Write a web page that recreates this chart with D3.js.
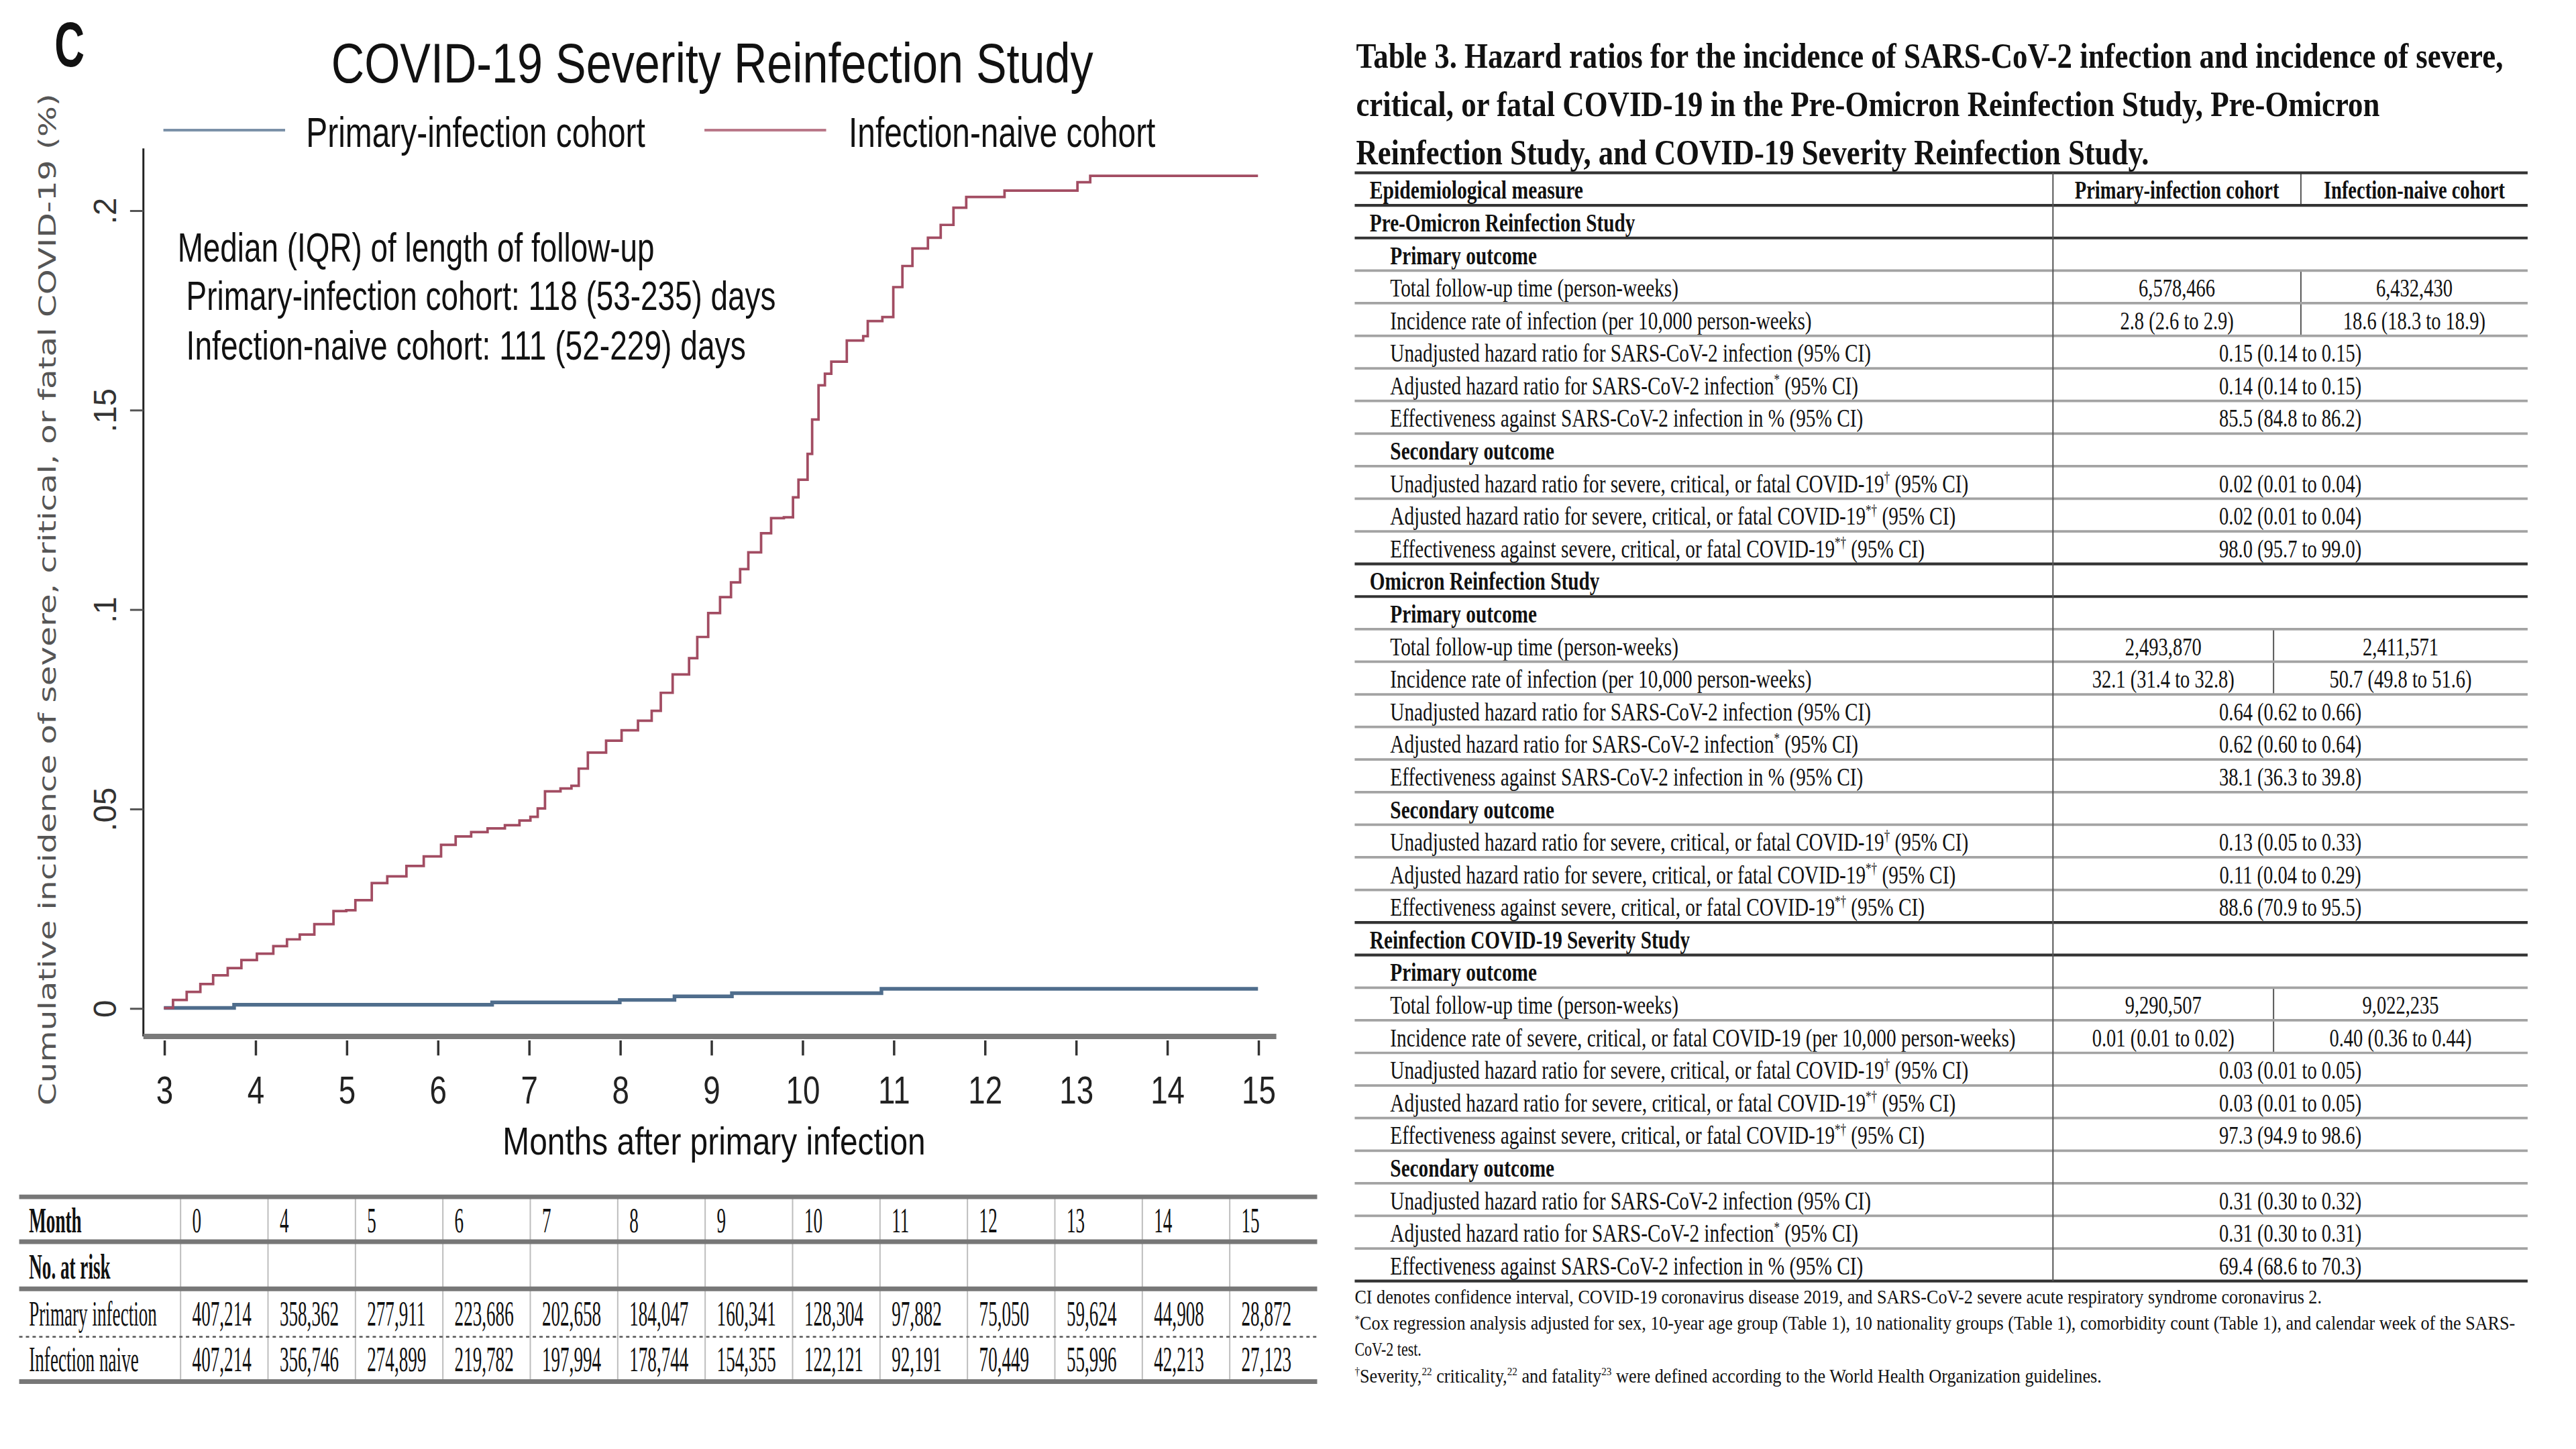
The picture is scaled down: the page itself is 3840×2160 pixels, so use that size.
<!DOCTYPE html>
<html><head><meta charset="utf-8">
<script src="https://cdn.jsdelivr.net/npm/d3@7"></script>
<style>html,body{margin:0;padding:0;background:#fff;} svg{display:block;}</style>
</head><body>
<svg id="chart" width="3840" height="2160" viewBox="0 0 1545 869"></svg>
<script>
// ---------------- DATA ----------------
const panelLetter = "C";
const chartTitle = "COVID-19 Severity Reinfection Study";
const seriesNames = ["Primary-infection cohort", "Infection-naive cohort"];
const xTickValues = [3,4,5,6,7,8,9,10,11,12,13,14,15];
const yTickValues = [0, 0.05, 0.1, 0.15, 0.2];
const yTickLabels = ["0", ".05", ".1", ".15", ".2"];
const xAxisTitle = "Months after primary infection";
const yAxisTitle = "Cumulative incidence of severe, critical, or fatal COVID-19 (%)";
const medianNotes = ["Median (IQR) of length of follow-up",
  "Primary-infection cohort: 118 (53-235) days",
  "Infection-naive cohort: 111 (52-229) days"];

const primaryMonths = [3, 3.77, 6.6, 8.0, 8.6, 9.23, 10.87, 15];
const primaryValues = [0, 0.0008, 0.0014, 0.002, 0.0029, 0.0037, 0.0048, 0.0048];

const naiveMonths = [3.0,3.1,3.25,3.4,3.54,3.7,3.85,4.02,4.2,4.35,4.49,4.65,4.86,5.0,5.1,5.28,5.45,5.66,5.85,6.04,6.2,6.37,6.55,6.74,6.9,7.02,7.1,7.18,7.35,7.47,7.55,7.65,7.85,8.02,8.2,8.35,8.45,8.58,8.76,8.85,8.97,9.1,9.22,9.32,9.41,9.55,9.66,9.8,9.9,9.96,10.06,10.11,10.18,10.25,10.32,10.49,10.67,10.72,10.88,11.0,11.1,11.21,11.38,11.52,11.66,11.8,12.22,13.02,13.16,15.0];
const naiveValues = [0,0.002,0.004,0.006,0.0082,0.010,0.012,0.0136,0.0155,0.0172,0.0184,0.021,0.0243,0.0245,0.027,0.0313,0.033,0.0356,0.038,0.0409,0.043,0.0441,0.045,0.0458,0.047,0.0479,0.050,0.0543,0.055,0.0557,0.060,0.064,0.067,0.0696,0.072,0.0745,0.079,0.0836,0.0877,0.093,0.099,0.103,0.1067,0.110,0.1142,0.119,0.1228,0.123,0.128,0.1324,0.1389,0.1475,0.1561,0.159,0.162,0.1673,0.1684,0.1722,0.1732,0.1807,0.186,0.1904,0.1931,0.1963,0.2006,0.2033,0.2049,0.207,0.2086,0.2086];

const riskMonths = ["0","4","5","6","7","8","9","10","11","12","13","14","15"];
const riskPrimary = ["407,214","358,362","277,911","223,686","202,658","184,047","160,341","128,304","97,882","75,050","59,624","44,908","28,872"];
const riskNaive = ["407,214","356,746","274,899","219,782","197,994","178,744","154,355","122,121","92,191","70,449","55,996","42,213","27,123"];
const riskRowLabels = ["Month", "No. at risk", "Primary infection", "Infection naive"];

const tableTitle = ["Table 3. Hazard ratios for the incidence of SARS-CoV-2 infection and incidence of severe,",
  "critical, or fatal COVID-19 in the Pre-Omicron Reinfection Study, Pre-Omicron",
  "Reinfection Study, and COVID-19 Severity Reinfection Study."];
const tableHeader = ["Epidemiological measure", "Primary-infection cohort", "Infection-naive cohort"];
const tableLabels = [
  "Pre-Omicron Reinfection Study",
  "Primary outcome",
  "Total follow-up time (person-weeks)",
  "Incidence rate of infection (per 10,000 person-weeks)",
  "Unadjusted hazard ratio for SARS-CoV-2 infection (95% CI)",
  "Adjusted hazard ratio for SARS-CoV-2 infection{*} (95% CI)",
  "Effectiveness against SARS-CoV-2 infection in % (95% CI)",
  "Secondary outcome",
  "Unadjusted hazard ratio for severe, critical, or fatal COVID-19{†} (95% CI)",
  "Adjusted hazard ratio for severe, critical, or fatal COVID-19{*†} (95% CI)",
  "Effectiveness against severe, critical, or fatal COVID-19{*†} (95% CI)",
  "Omicron Reinfection Study",
  "Primary outcome",
  "Total follow-up time (person-weeks)",
  "Incidence rate of infection (per 10,000 person-weeks)",
  "Unadjusted hazard ratio for SARS-CoV-2 infection (95% CI)",
  "Adjusted hazard ratio for SARS-CoV-2 infection{*} (95% CI)",
  "Effectiveness against SARS-CoV-2 infection in % (95% CI)",
  "Secondary outcome",
  "Unadjusted hazard ratio for severe, critical, or fatal COVID-19{†} (95% CI)",
  "Adjusted hazard ratio for severe, critical, or fatal COVID-19{*†} (95% CI)",
  "Effectiveness against severe, critical, or fatal COVID-19{*†} (95% CI)",
  "Reinfection COVID-19 Severity Study",
  "Primary outcome",
  "Total follow-up time (person-weeks)",
  "Incidence rate of severe, critical, or fatal COVID-19 (per 10,000 person-weeks)",
  "Unadjusted hazard ratio for severe, critical, or fatal COVID-19{†} (95% CI)",
  "Adjusted hazard ratio for severe, critical, or fatal COVID-19{*†} (95% CI)",
  "Effectiveness against severe, critical, or fatal COVID-19{*†} (95% CI)",
  "Secondary outcome",
  "Unadjusted hazard ratio for SARS-CoV-2 infection (95% CI)",
  "Adjusted hazard ratio for SARS-CoV-2 infection{*} (95% CI)",
  "Effectiveness against SARS-CoV-2 infection in % (95% CI)"
];
const tableKinds = ["study","outcome","data","data","data","data","data","outcome","data","data","data",
  "study","outcome","data","data","data","data","data","outcome","data","data","data",
  "study","outcome","data","data","data","data","data","outcome","data","data","data"];
const tableValueA = [null,null,"6,578,466","2.8 (2.6 to 2.9)","0.15 (0.14 to 0.15)","0.14 (0.14 to 0.15)","85.5 (84.8 to 86.2)",null,"0.02 (0.01 to 0.04)","0.02 (0.01 to 0.04)","98.0 (95.7 to 99.0)",
  null,null,"2,493,870","32.1 (31.4 to 32.8)","0.64 (0.62 to 0.66)","0.62 (0.60 to 0.64)","38.1 (36.3 to 39.8)",null,"0.13 (0.05 to 0.33)","0.11 (0.04 to 0.29)","88.6 (70.9 to 95.5)",
  null,null,"9,290,507","0.01 (0.01 to 0.02)","0.03 (0.01 to 0.05)","0.03 (0.01 to 0.05)","97.3 (94.9 to 98.6)",null,"0.31 (0.30 to 0.32)","0.31 (0.30 to 0.31)","69.4 (68.6 to 70.3)"];
const tableValueB = [null,null,"6,432,430","18.6 (18.3 to 18.9)",null,null,null,null,null,null,null,
  null,null,"2,411,571","50.7 (49.8 to 51.6)",null,null,null,null,null,null,null,
  null,null,"9,022,235","0.40 (0.36 to 0.44)",null,null,null,null,null,null,null];
const tableFootnotes = [
  "CI denotes confidence interval, COVID-19 coronavirus disease 2019, and SARS-CoV-2 severe acute respiratory syndrome coronavirus 2.",
  "{*}Cox regression analysis adjusted for sex, 10-year age group (Table 1), 10 nationality groups (Table 1), comorbidity count (Table 1), and calendar week of the SARS-",
  "CoV-2 test.",
  "{†}Severity,{22} criticality,{22} and fatality{23} were defined according to the World Health Organization guidelines."
];

// ---------------- HELPERS ----------------
const svg = d3.select("#chart");
const SANS = "'Liberation Sans', Arial, sans-serif";
const SERIF = "'Liberation Serif', 'Times New Roman', serif";
function fit(sel, w){ sel.attr("textLength", w).attr("lengthAdjust","spacingAndGlyphs"); return sel; }
function squeeze(sel, f){ sel.each(function(){ const L=this.getComputedTextLength(); d3.select(this).attr("textLength", L*f).attr("lengthAdjust","spacingAndGlyphs"); }); return sel; }
function rich(t, str, size){
  const parts = str.split(/(\{[^}]*\})/).filter(p => p.length);
  let raised = false;
  parts.forEach(p => {
    if (p[0] === "{") {
      t.append("tspan").attr("dy", -size*0.38).attr("font-size", size*0.58).text(p.slice(1,-1));
      raised = true;
    } else {
      const ts = t.append("tspan").text(p);
      if (raised) { ts.attr("dy", size*0.38); raised = false; }
    }
  });
  return t;
}

// ---------------- LEFT PANEL: CURVES ----------------
const x = d3.scaleLinear().domain([3, 15]).range([98.3, 754.5]);
const y = d3.scaleLinear().domain([0, 0.2]).range([604.5, 126]);
const colors = ["#4f6d8c", "#a24c62"];

fit(svg.append("text").attr("x", 32.7).attr("y", 40).attr("font-family", SANS).attr("font-size", 38)
  .attr("font-weight", 700).attr("fill", "#111").text(panelLetter), 18);
fit(svg.append("text").attr("x", 198.7).attr("y", 49.6).attr("font-family", SANS).attr("font-size", 33.5)
  .attr("fill", "#111").text(chartTitle), 457);

// legend
const legendPos = [{x1: 98, x2: 171, tx: 183.6, w: 203.4}, {x1: 422.5, x2: 495.5, tx: 509, w: 184}];
seriesNames.forEach((n, i) => {
  svg.append("line").attr("x1", legendPos[i].x1).attr("x2", legendPos[i].x2).attr("y1", 78).attr("y2", 78)
    .attr("stroke", colors[i]).attr("stroke-width", 1.6).attr("opacity", 0.75);
  fit(svg.append("text").attr("x", legendPos[i].tx).attr("y", 88).attr("font-family", SANS).attr("font-size", 25)
    .attr("fill", "#111").text(n), legendPos[i].w);
});

// median notes
const notePos = [{x: 106.5, y: 157, w: 286}, {x: 111.7, y: 186, w: 353.6}, {x: 111.7, y: 215.7, w: 335.6}];
medianNotes.forEach((s, i) => {
  fit(svg.append("text").attr("x", notePos[i].x).attr("y", notePos[i].y).attr("font-family", SANS)
    .attr("font-size", 24.5).attr("fill", "#111").text(s), notePos[i].w);
});

// y axis
svg.append("line").attr("x1", 86).attr("x2", 86).attr("y1", 89).attr("y2", 621.6)
  .attr("stroke", "#222").attr("stroke-width", 1.2);
const yAxisG = svg.append("g").attr("transform", "translate(86,0)")
  .call(d3.axisLeft(y).tickValues(yTickValues).tickSize(8).tickFormat((d, i) => yTickLabels[i]));
yAxisG.select(".domain").remove();
yAxisG.selectAll(".tick line").attr("stroke", "#555").attr("stroke-width", 1.2);
yAxisG.selectAll(".tick text").attr("x", null).attr("dy", null).attr("text-anchor", "middle")
  .attr("transform", "translate(-16.5,0) rotate(-90)").attr("font-family", SANS).attr("font-size", 19).attr("fill", "#333");

fit(svg.append("text").attr("transform", "translate(33.5,359.5) rotate(-90)").attr("text-anchor", "middle")
  .attr("font-family", "'DejaVu Sans', sans-serif").attr("font-size", 14.5).attr("fill", "#555").text(yAxisTitle), 607);

// x axis
svg.append("line").attr("x1", 86).attr("x2", 765.5).attr("y1", 621.6).attr("y2", 621.6)
  .attr("stroke", "#7a7a7a").attr("stroke-width", 3.2);
const xAxisG = svg.append("g").attr("transform", "translate(0,624)")
  .call(d3.axisBottom(x).tickValues(xTickValues).tickSize(9).tickFormat(d3.format("d")));
xAxisG.select(".domain").remove();
xAxisG.selectAll(".tick line").attr("stroke", "#333").attr("stroke-width", 1.4);
xAxisG.selectAll(".tick text").attr("y", 38).attr("dy", null).attr("font-family", SANS).attr("font-size", 23).attr("fill", "#222");
squeeze(xAxisG.selectAll(".tick text"), 0.8);
fit(svg.append("text").attr("x", 301.5).attr("y", 692.6).attr("font-family", SANS).attr("font-size", 23)
  .attr("fill", "#111").text(xAxisTitle), 253.6);

// curves
const line = d3.line().x(d => x(d[0])).y(d => y(d[1])).curve(d3.curveStepAfter);
svg.append("path").datum(primaryMonths.map((m, i) => [m, primaryValues[i]]))
  .attr("d", line).attr("fill", "none").attr("stroke", colors[0]).attr("stroke-width", 2.2);
svg.append("path").datum(naiveMonths.map((m, i) => [m, naiveValues[i]]))
  .attr("d", line).attr("fill", "none").attr("stroke", colors[1]).attr("stroke-width", 1.5);

// ---------------- RISK TABLE ----------------
const rx = d3.scaleBand().domain(d3.range(riskMonths.length)).range([108.3, 790]);
const riskLinesY = [717.8, 744.7, 773, 828.6];
const riskBase = [739, 767, 795, 822.5];
svg.append("g").selectAll("line").data(rx.domain()).join("line")
  .attr("x1", d => rx(d)).attr("x2", d => rx(d)).attr("y1", 717.8).attr("y2", 828.6)
  .attr("stroke", "#bdbdbd").attr("stroke-width", 0.8);
riskLinesY.forEach(yy => svg.append("line").attr("x1", 11.5).attr("x2", 790).attr("y1", yy).attr("y2", yy)
  .attr("stroke", "#777").attr("stroke-width", 2.8));
svg.append("line").attr("x1", 11.5).attr("x2", 790).attr("y1", 801.7).attr("y2", 801.7)
  .attr("stroke", "#555").attr("stroke-width", 1).attr("stroke-dasharray", "2,2");
riskRowLabels.forEach((lab, i) => {
  squeeze(svg.append("text").attr("x", 17.4).attr("y", riskBase[i]).attr("font-family", SERIF)
    .attr("font-size", 21).attr("font-weight", i < 2 ? 700 : 400).attr("fill", "#111").text(lab), 0.52);
});
[riskMonths, riskPrimary, riskNaive].forEach((arr, r) => {
  const yy = riskBase[r === 0 ? 0 : r + 1];
  squeeze(svg.append("g").selectAll("text").data(arr).join("text")
    .attr("x", (d, i) => rx(i) + 7).attr("y", yy).attr("font-family", SERIF).attr("font-size", 21)
    .attr("fill", "#111").text(d => d), 0.52);
});

// ---------------- RIGHT TABLE ----------------
const T_LEFT = 812.5, T_RIGHT = 1516, COL1 = 1231.3;
const rowY = d3.scaleLinear().domain([0, tableLabels.length + 1]).range([103.6, 768.3]);
const titleW = [688, 614, 475.6];
tableTitle.forEach((s, i) => {
  fit(svg.append("text").attr("x", 813.3).attr("y", 40.5 + i * 29).attr("font-family", SERIF).attr("font-size", 21)
    .attr("font-weight", 700).attr("fill", "#111").text(s), titleW[i]);
});
// study index per row
let sIdx = -1;
const studyOf = tableKinds.map(k => { if (k === "study") sIdx++; return sIdx; });
const splitX = s => s === 0 ? 1380 : 1363.6;

// header
squeeze(svg.append("text").attr("x", 821.5).attr("y", rowY(0) + 15.6).attr("font-family", SERIF).attr("font-size", 15.5)
  .attr("font-weight", 700).attr("fill", "#111").text(tableHeader[0]), 0.77);
[[COL1, splitX(0)], [splitX(0), T_RIGHT]].forEach((c, j) => {
  squeeze(svg.append("text").attr("x", (c[0] + c[1]) / 2).attr("y", rowY(0) + 15.6).attr("text-anchor", "middle")
    .attr("font-family", SERIF).attr("font-size", 15.5).attr("font-weight", 700).attr("fill", "#111").text(tableHeader[j + 1]), 0.74);
});
svg.append("line").attr("x1", splitX(0)).attr("x2", splitX(0)).attr("y1", rowY(0)).attr("y2", rowY(1))
  .attr("stroke", "#555").attr("stroke-width", 0.8);

// rows
tableLabels.forEach((lab, i) => {
  const r = i + 1;
  const kind = tableKinds[i];
  const t = svg.append("text").attr("x", kind === "study" ? 821.5 : 833.8).attr("y", rowY(r) + 15.6)
    .attr("font-family", SERIF).attr("font-size", 15.5).attr("font-weight", kind === "data" ? 400 : 700).attr("fill", "#111");
  rich(t, lab, 15.5);
  squeeze(t, 0.76);
  const s = studyOf[i];
  if (tableValueA[i] !== null && tableValueB[i] !== null) {
    const sx = splitX(s);
    squeeze(svg.append("text").attr("x", (COL1 + sx) / 2).attr("y", rowY(r) + 15.6).attr("text-anchor", "middle")
      .attr("font-family", SERIF).attr("font-size", 15.5).attr("fill", "#111").text(tableValueA[i]), 0.74);
    squeeze(svg.append("text").attr("x", (sx + T_RIGHT) / 2).attr("y", rowY(r) + 15.6).attr("text-anchor", "middle")
      .attr("font-family", SERIF).attr("font-size", 15.5).attr("fill", "#111").text(tableValueB[i]), 0.74);
    svg.append("line").attr("x1", sx).attr("x2", sx).attr("y1", rowY(r)).attr("y2", rowY(r + 1))
      .attr("stroke", "#555").attr("stroke-width", 0.8);
  } else if (tableValueA[i] !== null) {
    squeeze(svg.append("text").attr("x", (COL1 + T_RIGHT) / 2).attr("y", rowY(r) + 15.6).attr("text-anchor", "middle")
      .attr("font-family", SERIF).attr("font-size", 15.5).attr("fill", "#111").text(tableValueA[i]), 0.74);
  }
});

// rules
const nRows = tableLabels.length + 1;
for (let b = 0; b <= nRows; b++) {
  const prevKind = b >= 2 ? tableKinds[b - 2] : null;
  const nextKind = b >= 1 && b - 1 < tableKinds.length ? tableKinds[b - 1] : null;
  const dark = b <= 1 || b === nRows || prevKind === "study" || nextKind === "study";
  svg.append("line").attr("x1", T_LEFT).attr("x2", T_RIGHT).attr("y1", rowY(b)).attr("y2", rowY(b))
    .attr("stroke", dark ? "#333" : "#a3a3a3").attr("stroke-width", dark ? 1.7 : 1.5);
}
svg.append("line").attr("x1", COL1).attr("x2", COL1).attr("y1", rowY(0)).attr("y2", rowY(nRows))
  .attr("stroke", "#555").attr("stroke-width", 0.8);

// footnotes
const footY = [781.8, 797.6, 813.3, 829.2];
const footW = [580, 696, null, 448];
tableFootnotes.forEach((s, i) => {
  const t = svg.append("text").attr("x", 812.5).attr("y", footY[i]).attr("font-family", SERIF)
    .attr("font-size", 11.5).attr("fill", "#111");
  rich(t, s, 11.5);
  if (footW[i]) fit(t, footW[i]); else squeeze(t, 0.77);
});
</script>
</body></html>
